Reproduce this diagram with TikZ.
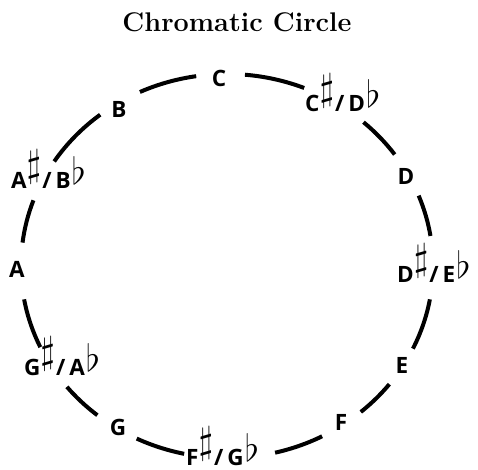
\documentclass[tikz,border=0pt]{standalone}
\usepackage{fontspec}
\usepackage{graphicx}
\usetikzlibrary{calc}
\newfontfamily\labfont{Open Sans}
\newcommand{\shp}{\raisebox{11.5pt}{\scalebox{1.85}{$\sharp$}}}
\newcommand{\flt}{\raisebox{4pt}{\scalebox{1.8}{$\flat$}}}
\newcommand{\acc}[2]{#1\kern0pt\shp\kern1pt/\kern4pt#2\kern1pt\flt}
\tikzset{
  lab/.style={font=\labfont\bfseries\fontsize{22.5}{26}\selectfont, inner sep=0pt, anchor=base},
  accl/.style={lab, anchor=base west},
  ring/.style={line width=4pt}
}
\begin{document}
\begin{tikzpicture}[x=1pt,y=1pt]
\useasboundingbox (0,0) rectangle (478,469);
\node[font=\bfseries\fontsize{27}{30}\selectfont, inner sep=0pt, anchor=base] (title) at (237,437) {Chromatic Circle};
\coordinate (O) at (227,203);
\foreach \s/\e in {98.6/115, 68/85, 35.5/48.5, 9/21.5, -25.5/-10, -49.5/-38, -76.5/-62.5, -116/-102, -141/-129, -170/-155, 160/173, 128/147}
  \draw[ring] ($(O)+(\s:206pt and 192pt)$) arc[start angle=\s, end angle=\e, x radius=206pt, y radius=192pt];
\node[lab] (c) at (219,382) {C};
\node[accl] (cs) at (305,357) {\acc{C}{D}};
\node[lab] (d) at (406,284) {D};
\node[accl] (ds) at (397,187) {\acc{D}{E}};
\node[lab] (e) at (402,96) {E};
\node[lab] (f) at (341,39) {F};
\node[accl] (fs) at (186,4) {\acc{F}{G}};
\node[lab] (g) at (118,34) {G};
\node[accl] (gs) at (24,94) {\acc{G}{A}};
\node[lab] (a) at (17,192) {A};
\node[accl] (as) at (11,281) {\acc{A}{B}};
\node[lab] (b) at (119,351) {B};
\end{tikzpicture}
\end{document}
